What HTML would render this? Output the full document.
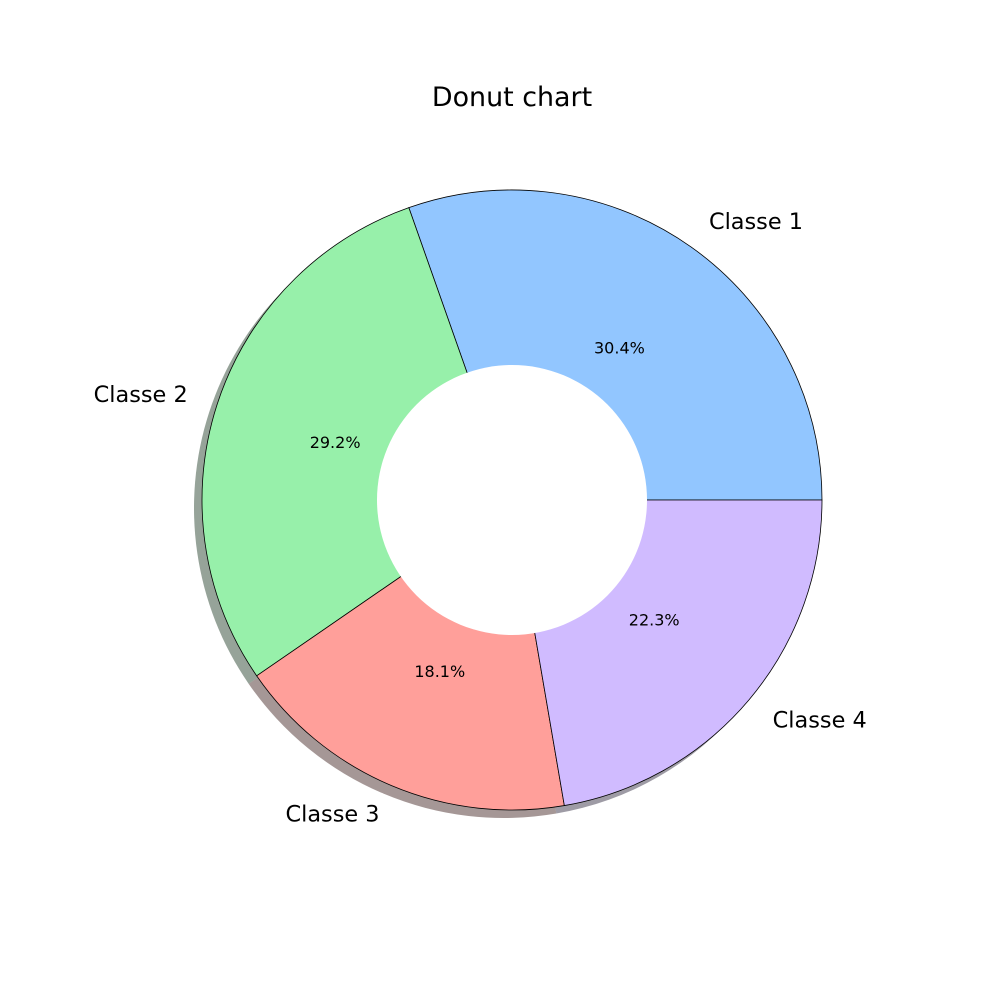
<!DOCTYPE html>
<html><head><meta charset="utf-8"><style>
body{margin:0;background:#fff;}
svg text{font-family:"DejaVu Sans","Liberation Sans",sans-serif;}
</style></head><body>
<svg id="chart" width="1000" height="1000" viewBox="0 0 1000 1000" xmlns="http://www.w3.org/2000/svg">
<rect width="1000" height="1000" fill="#fff"/>
<text x="512" y="106" font-size="26.9" text-anchor="middle">Donut chart</text>
<g id="shadows"></g>
<g id="wedges"></g>
<circle cx="512" cy="500" r="135" fill="#fff"/>
<g id="labels"></g>
</svg>
<script>
const categories = ["Classe 1","Classe 2","Classe 3","Classe 4"];
const values = [30.4, 29.2, 18.1, 22.3];
const colors = ["#92c6ff","#97f0aa","#ff9f9a","#d0bbff"];
const shadowColors = ["#2c3b4c","#2d4833","#4c302e","#3e384c"];
const cx=512, cy=500, R=310, sdx=-8, sdy=8;
const NS="http://www.w3.org/2000/svg";
function pt(rad,a,ox,oy){return [cx+ox+rad*Math.cos(a), cy+oy-rad*Math.sin(a)];}
function wedgePath(a0,a1,ox,oy){
  const large=(a1-a0)>Math.PI?1:0;
  const p1=pt(R,a0,ox,oy),p2=pt(R,a1,ox,oy);
  return `M${cx+ox},${cy+oy} L${p1[0]},${p1[1]} A${R},${R} 0 ${large} 0 ${p2[0]},${p2[1]} Z`;
}
const total=values.reduce((a,b)=>a+b,0);
const sh=document.getElementById('shadows'), wg=document.getElementById('wedges'), lb=document.getElementById('labels');
let a=0;
values.forEach((v,i)=>{
  const a1=a+v/total*2*Math.PI;
  const s=document.createElementNS(NS,'path');
  
  
  s.setAttribute('d',wedgePath(a,a1,sdx,sdy));
  s.setAttribute('fill',shadowColors[i]);s.setAttribute('fill-opacity','0.5');
  sh.appendChild(s);
  const w=document.createElementNS(NS,'path');
  
  
  w.setAttribute('d',wedgePath(a,a1,0,0));
  w.setAttribute('fill',colors[i]);w.setAttribute('stroke','#000');w.setAttribute('stroke-width','0.8');
  wg.appendChild(w);
  const m=(a+a1)/2;
  const lp=pt(R*1.1,m,0,0);
  const t=document.createElementNS(NS,'text');
  
  
  t.setAttribute('x',lp[0]);t.setAttribute('y',lp[1]+7.5);
  t.setAttribute('font-size','22.4');
  t.setAttribute('text-anchor',Math.cos(m)>0?'start':'end');
  t.textContent=categories[i];lb.appendChild(t);
  const pp=pt(R*0.6,m,0,0);
  const p=document.createElementNS(NS,'text');
  
  
  p.setAttribute('x',pp[0]);p.setAttribute('y',pp[1]+5.5);
  p.setAttribute('font-size','16');p.setAttribute('text-anchor','middle');
  p.textContent=(v/total*100).toFixed(1)+'%';lb.appendChild(p);
  a=a1;
});
</script>
</body></html>
